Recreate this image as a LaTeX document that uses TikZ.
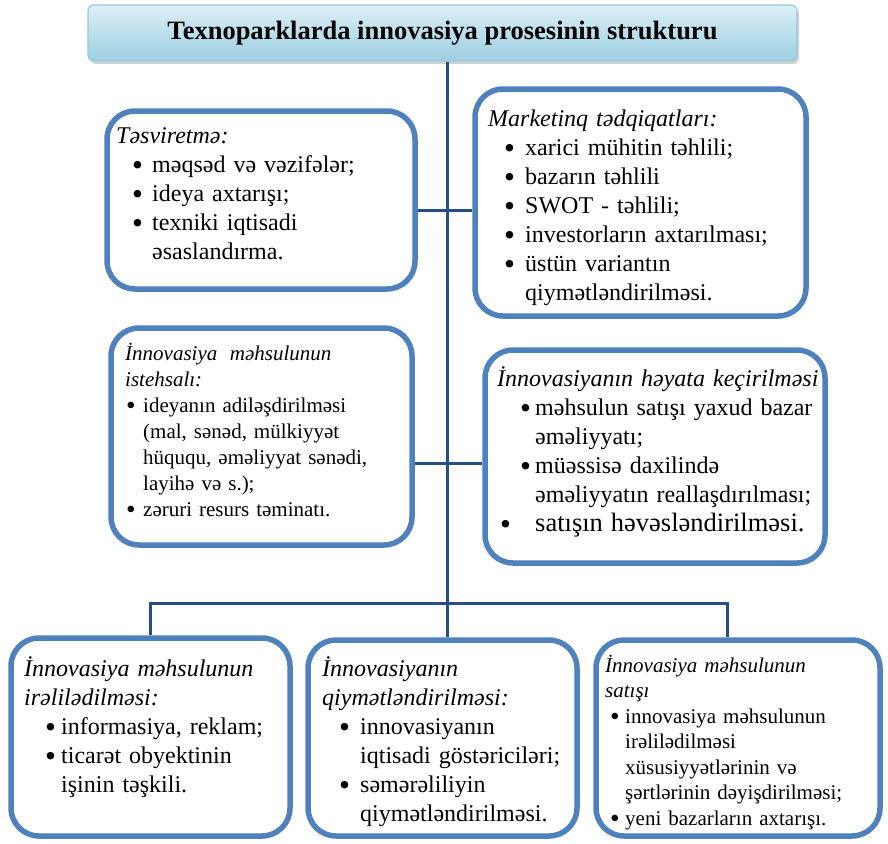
\documentclass[tikz,border=0pt]{standalone}
\usepackage{fontspec}
\setmainfont{Liberation Serif}
\usepackage{tikz}
\usetikzlibrary{calc,positioning,shadows}
\usepackage{xcolor}
\definecolor{FrameBlue}{HTML}{4F81BD}
\definecolor{SpineNavy}{HTML}{254E85}
\definecolor{TitleTop}{HTML}{DCEFF6}
\definecolor{TitleMid}{HTML}{CBE8F1}
\definecolor{TitleBot}{HTML}{9CCFE0}
\definecolor{TitleEdge}{HTML}{93CADC}

\newcommand\itm[2]{\hspace*{#1}\makebox[#2][l]{\hspace{-4pt}\raisebox{-0.13em}{\scalebox{1.3}{\textbullet}}}}
\newcommand\cont[1]{\hspace*{#1}}

\begin{document}
\begin{tikzpicture}[x=1pt,y=-1pt,
		titlebox/.style={draw=TitleEdge, line width=1.2pt, rounded corners=6pt,
			top color=TitleTop, middle color=TitleMid, bottom color=TitleBot,
			drop shadow={shadow xshift=2pt, shadow yshift=-3pt, fill=black!35},
			font=\fontsize{26.5}{30}\selectfont\bfseries},
		card/.style={draw=FrameBlue, line width=5.5pt, rounded corners=28pt,
			fill=white, inner sep=0pt},
		cardtext/.style={anchor=base west, align=left, inner sep=0pt,
			text width=#1, font=\fontsize{24}{29}\selectfont},
		smalltext/.style={font=\fontsize{21}{26}\selectfont},
		link/.style={SpineNavy, line width=3pt}
		]
		\useasboundingbox (0,0) rectangle (888,843);
		\coordinate (spine) at (447,0);
		\coordinate (row1) at (447,210);
		\coordinate (row2) at (447,463);
		\coordinate (bus) at (447,603);
		\coordinate (busR) at (727,603);
		
		\node[titlebox, minimum width=709pt, minimum height=56pt] (title) at (442.5,33) {Texnoparklarda innovasiya prosesinin strukturu};
		
		\node[card, minimum width=308pt, minimum height=178pt] (plan) at (261,200) {};
		\node[card, minimum width=331pt, minimum height=227pt] (market) at (640.5,202.5) {};
		\node[card, minimum width=301pt, minimum height=217pt] (make) at (261.5,436.5) {};
		\node[card, minimum width=340pt, minimum height=213pt] (launch) at (655,456.5) {};
		\node[card, minimum width=279pt, minimum height=198pt] (promo) at (150.5,737) {};
		\node[card, minimum width=269pt, minimum height=196pt] (assess) at (442.5,738) {};
		\node[card, minimum width=284pt, minimum height=196pt] (sales) at (738,738) {};
		
		\node[cardtext=290pt] (plan-t) at (116,143) {\textit{Təsviretmə:}\\
			\itm{20pt}{16pt}məqsəd və vəzifələr;\\
			\itm{20pt}{16pt}ideya axtarışı;\\
			\itm{20pt}{16pt}texniki iqtisadi\\
			\cont{36pt}əsaslandırma.};
		\node[cardtext=310pt] (market-t) at (488,126) {\textit{Marketinq tədqiqatları:}\\
			\itm{20pt}{17pt}xarici mühitin təhlili;\\
			\itm{20pt}{17pt}bazarın təhlili\\
			\itm{20pt}{17pt}SWOT - təhlili;\\
			\itm{20pt}{17pt}investorların axtarılması;\\
			\itm{20pt}{17pt}üstün variantın\\
			\cont{37pt}qiymətləndirilməsi.};
		\node[cardtext=285pt, smalltext] (make-t) at (125,360) {\textit{İnnovasiya\hspace{0.6em}məhsulunun}\\
			\textit{istehsalı:}\\
			\itm{5pt}{13pt}ideyanın adiləşdirilməsi\\
			\cont{18pt}(mal, sənəd, mülkiyyət\\
			\cont{18pt}hüququ, əməliyyat sənədi,\\
			\cont{18pt}layihə və s.);\\
			\itm{5pt}{13pt}zəruri resurs təminatı.};
		\node[cardtext=330pt] (launch-t) at (497,386) {\textit{İnnovasiyanın həyata keçirilməsi}\\
			\itm{27pt}{11pt}məhsulun satışı yaxud bazar\\
			\cont{38pt}əməliyyatı;\\
			\itm{27pt}{11pt}müəssisə daxilində\\
			\cont{38pt}əməliyyatın reallaşdırılması;\\
			\itm{7pt}{31pt}{\fontsize{26.5}{29}\selectfont satışın həvəsləndirilməsi.}};
		\node[cardtext=265pt] (promo-t) at (24,676) {\textit{İnnovasiya məhsulunun}\\
			\textit{irəlilədilməsi:}\\
			\itm{25pt}{12pt}informasiya, reklam;\\
			\itm{25pt}{12pt}ticarət obyektinin\\
			\cont{37pt}işinin təşkili.};
		\node[cardtext=255pt] (assess-t) at (322,676) {\textit{İnnovasiyanın}\\
			\textit{qiymətləndirilməsi:}\\
			\itm{21pt}{17pt}innovasiyanın\\
			\cont{38pt}iqtisadi göstəriciləri;\\
			\itm{21pt}{17pt}səmərəliliyin\\
			\cont{38pt}qiymətləndirilməsi.};
		\node[cardtext=272pt, font=\fontsize{21}{25.5}\selectfont] (sales-t) at (605,672) {\textit{İnnovasiya məhsulunun}\\
			\textit{satışı}\\
			\itm{9pt}{11pt}innovasiya məhsulunun\\
			\cont{20pt}irəlilədilməsi\\
			\cont{20pt}xüsusiyyətlərinin və\\
			\cont{20pt}şərtlərinin dəyişdirilməsi;\\
			\itm{9pt}{11pt}yeni bazarların axtarışı.};
		
		\draw[link] (title.south -| spine) -- (assess.north -| spine);
		\draw[link] (plan.east |- row1) -- (market.west |- row1);
		\draw[link] (make.east |- row2) -- (launch.west |- row2);
		\draw[link] (promo.north) -- (promo.north |- bus) -- (busR) -- (busR |- sales.north);
	\end{tikzpicture}
\end{document}
